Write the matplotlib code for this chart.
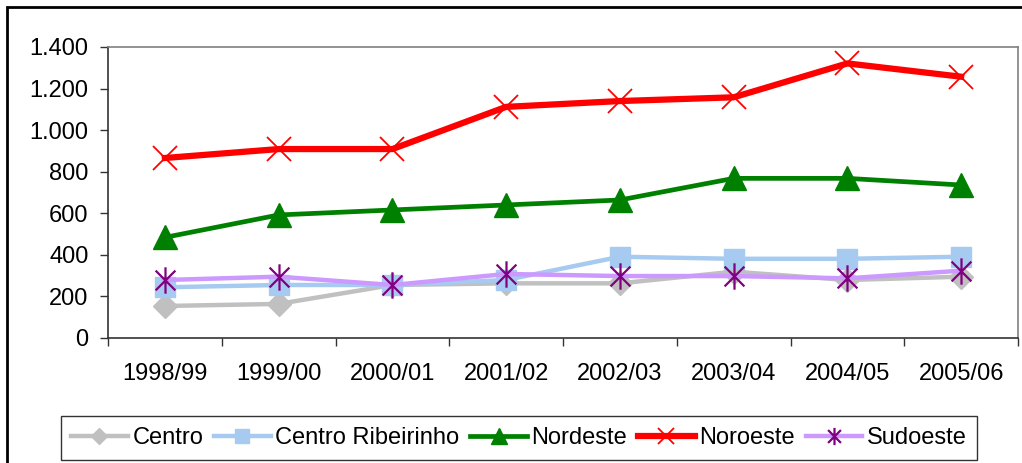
import matplotlib.pyplot as plt
from matplotlib.patches import Rectangle
from matplotlib.path import Path
from matplotlib.ticker import FuncFormatter, FixedLocator, NullFormatter
import numpy as np

plt.rcParams["font.family"] = ["Liberation Sans", "DejaVu Sans"]

# data
anos = ["1998/99", "1999/00", "2000/01", "2001/02", "2002/03", "2003/04", "2004/05", "2005/06"]
centro = [154, 164, 255, 263, 263, 319, 279, 295]
centro_ribeirinho = [244, 255, 255, 279, 391, 381, 381, 391]
nordeste = [484, 592, 616, 640, 664, 768, 768, 736]
noroeste = [866, 909, 909, 1112, 1140, 1158, 1321, 1257]
sudoeste = [279, 295, 255, 308, 298, 298, 287, 324]

# Excel style star: an x with a vertical bar
star = Path([(0, -1), (0, 1), (-0.75, -0.75), (0.75, 0.75), (-0.75, 0.75), (0.75, -0.75)],
            [Path.MOVETO, Path.LINETO, Path.MOVETO, Path.LINETO, Path.MOVETO, Path.LINETO])

fig = plt.figure(figsize=(10.22, 4.63), dpi=100)
ax = fig.add_axes([108 / 1022, 1 - 338 / 463, 910 / 1022, 291 / 463])

x = np.arange(len(anos))

ax.plot(x, centro, color="#C0C0C0", lw=3.2, marker="D", ms=12,
        mfc="#C0C0C0", mec="#C0C0C0", label="Centro")
ax.plot(x, centro_ribeirinho, color="#A6CAF0", lw=3.2, marker="s", ms=15,
        mfc="#A6CAF0", mec="#A6CAF0", label="Centro Ribeirinho")
ax.plot(x, nordeste, color="#008000", lw=3.4, marker="^", ms=17,
        mfc="#008000", mec="#008000", label="Nordeste")
ax.plot(x, noroeste, color="#FF0000", lw=4.5, marker="x", ms=17, mew=1.3,
        mec="#FF0000", label="Noroeste")
ax.plot(x, sudoeste, color="#CC99FF", lw=3.2, marker=star, ms=19, mew=1.6,
        mec="#800080", label="Sudoeste")

ax.set_xlim(-0.5, len(anos) - 0.5)
ax.set_ylim(0, 1400)
ax.set_yticks(np.arange(0, 1401, 200))
ax.yaxis.set_major_formatter(FuncFormatter(lambda v, p: f"{int(v):,}".replace(",", ".")))

ax.xaxis.set_major_locator(FixedLocator(np.arange(-0.5, len(anos), 1)))
ax.xaxis.set_major_formatter(NullFormatter())
ax.xaxis.set_minor_locator(FixedLocator(x))
ax.set_xticklabels(anos, minor=True)
ax.tick_params(axis="x", which="minor", length=0, pad=18, labelsize=17)
ax.tick_params(axis="x", which="major", length=6, width=1, color="#333333")
ax.tick_params(axis="y", length=6, width=1, pad=8, labelsize=17, color="#333333")

for s in ["top", "right"]:
    ax.spines[s].set_color("#808080")
    ax.spines[s].set_linewidth(1.2)
for s in ["left", "bottom"]:
    ax.spines[s].set_color("#333333")
    ax.spines[s].set_linewidth(1.2)

leg = fig.legend(loc="center", bbox_to_anchor=(519 / 1022, 1 - 438 / 463), ncol=5,
                 fontsize=17, frameon=True, fancybox=False, edgecolor="black",
                 handlelength=2.4, handletextpad=0.2, columnspacing=0.45,
                 markerscale=0.65, borderpad=0.45, borderaxespad=0)
leg.get_frame().set_linewidth(1)

# outer chart frame
fig.patches.append(Rectangle((7 / 1022, -0.1), 1.2, 1 - 7 / 463 + 0.1, transform=fig.transFigure,
                             fill=False, edgecolor="black", lw=2, clip_on=False))

fig.savefig("out.png", dpi=100)
